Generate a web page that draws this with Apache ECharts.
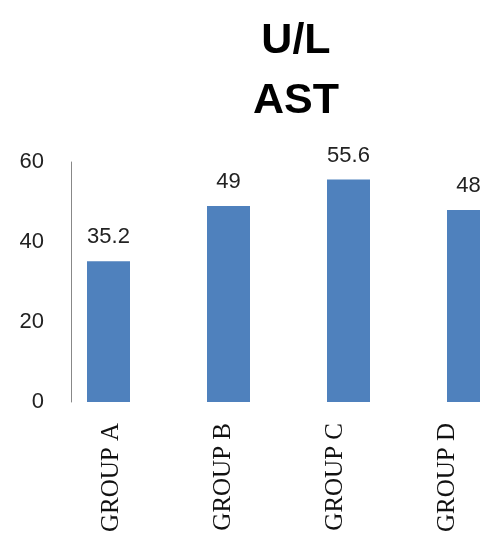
<!DOCTYPE html>
<html>
<head>
    <meta charset="utf-8" />
    <title>AST</title>
    <script src="https://cdn.jsdelivr.net/npm/echarts@6/dist/echarts.min.js"></script>
    <style>
        html, body { margin: 0; padding: 0; background: #fff; }
        #chart { width: 480px; height: 534px; }
    </style>
</head>
<body>
    <div id="chart"></div>
    <script>
        var groups = ['GROUP A', 'GROUP B', 'GROUP C', 'GROUP D'];
        var astValues = [35.2, 49, 55.6, 48];
        var yTicks = [0, 20, 40, 60];

        var myChart = echarts.init(document.getElementById('chart'));

        // the category labels sit a little tighter than the bars in the original,
        // so they get their own (empty) grid
        var option = {
            animation: false,
            title: {
                text: 'U/L\nAST',
                left: 291,
                top: 6,
                textAlign: 'center',
                textStyle: {
                    fontFamily: 'Liberation Sans',
                    fontWeight: 'bold',
                    fontSize: 43,
                    lineHeight: 60,
                    color: '#000'
                }
            },
            grid: [{
                left: 48.5,
                top: 162,
                width: 480,
                height: 240,
                outerBoundsMode: 'none'
            }, {
                left: 56,
                top: 162,
                width: 447,
                height: 240,
                outerBoundsMode: 'none'
            }],
            xAxis: [{
                type: 'category',
                gridIndex: 0,
                data: groups,
                axisLine: { show: false },
                axisTick: { show: false },
                axisLabel: { show: false }
            }, {
                type: 'category',
                gridIndex: 1,
                data: groups,
                axisLine: { show: false },
                axisTick: { show: false },
                axisLabel: {
                    rotate: 90,
                    margin: 21,
                    fontFamily: 'Liberation Serif',
                    fontSize: 25,
                    color: '#111'
                }
            }],
            yAxis: [{
                type: 'value',
                gridIndex: 0,
                min: yTicks[0],
                max: yTicks[yTicks.length - 1],
                interval: 20,
                offset: -22.5,
                splitLine: { show: false },
                axisTick: { show: false },
                axisLine: { show: true, lineStyle: { color: '#888', width: 1 } },
                axisLabel: {
                    margin: 27,
                    fontFamily: 'Liberation Sans',
                    fontSize: 22,
                    color: '#222'
                }
            }, {
                type: 'value',
                gridIndex: 1,
                show: false
            }],
            series: [{
                name: 'AST',
                type: 'bar',
                xAxisIndex: 0,
                yAxisIndex: 0,
                data: astValues,
                barWidth: 43,
                itemStyle: { color: '#4F81BD' },
                label: {
                    show: true,
                    position: 'top',
                    distance: 13,
                    fontFamily: 'Liberation Sans',
                    fontSize: 22,
                    color: '#222'
                }
            }]
        };

        myChart.setOption(option);
    </script>
</body>
</html>
